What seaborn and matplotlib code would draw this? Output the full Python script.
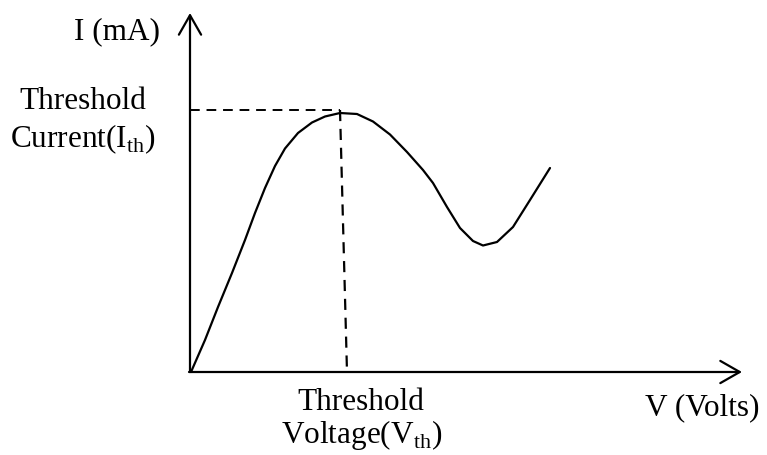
import numpy as np
import pandas as pd
import matplotlib
matplotlib.use("Agg")
import matplotlib.pyplot as plt
import seaborn as sns

# Courbe I(V) (unites arbitraires)
volts = [0.02, 0.30, 0.56, 0.84, 1.10, 1.30, 1.50, 1.70, 1.90, 2.16, 2.44, 2.70, 3.00,
         3.34, 3.66, 4.00, 4.34, 4.66, 4.86, 5.14, 5.40, 5.66, 5.86, 6.14, 6.46, 6.80, 7.20]
current = [0.00, 0.64, 1.30, 1.98, 2.64, 3.18, 3.68, 4.12, 4.47, 4.78, 4.99, 5.11, 5.18,
           5.16, 5.01, 4.75, 4.40, 4.04, 3.78, 3.30, 2.88, 2.62, 2.53, 2.60, 2.90, 3.44, 4.08]

v_th = 3.0
i_th = 5.24
v_max = 11.04
i_max = 7.18

sns.set_style("white")
plt.rcParams['font.family'] = ['Liberation Serif', 'DejaVu Serif']
plt.rcParams['mathtext.fontset'] = 'custom'
plt.rcParams['mathtext.rm'] = 'Liberation Serif'
plt.rcParams['text.color'] = 'black'

fig = plt.figure(figsize=(7.67, 4.55), dpi=100)
ax = fig.add_axes([0, 0, 1, 1])
ax.set_xlim(-3.8, 11.54)
ax.set_ylim(-1.66, 7.44)
ax.axis('off')

df = pd.DataFrame({'V': volts, 'I': current})
sns.lineplot(data=df, x='V', y='I', color='black', linewidth=1.6, ax=ax,
             solid_joinstyle='round')

# lignes de seuil
ax.plot([0, v_th], [i_th, i_th], color='black', lw=1.4, ls=(0, (5, 3.5)))
ax.plot([v_th, v_th + 0.14], [i_th, 0], color='black', lw=1.6, ls=(0, (5, 3.5)))

# axes avec fleches
arrow = dict(arrowstyle='->,head_length=0.7,head_width=0.4', color='black', lw=1.6,
             mutation_scale=20, shrinkA=0, shrinkB=0)
ax.annotate('', xy=(0, i_max), xytext=(0, 0), arrowprops=arrow)
ax.annotate('', xy=(v_max, 0), xytext=(-0.02, 0), arrowprops=arrow)

fs = 22.5
ax.text(-0.6, 6.66, 'I (mA)', fontsize=fs, ha='right', va='baseline')
ax.text(-2.14, 5.26, 'Threshold', fontsize=fs, ha='center', va='baseline')
ax.text(-2.14, 4.50, r'Current(I$_{\mathrm{th}}$)', fontsize=fs, ha='center', va='baseline')
ax.text(3.42, -0.76, 'Threshold', fontsize=fs, ha='center', va='baseline')
ax.text(3.44, -1.42, r'Voltage(V$_{\mathrm{th}}$)', fontsize=fs, ha='center', va='baseline')
ax.text(9.1, -0.86, 'V (Volts)', fontsize=fs, ha='left', va='baseline')

fig.savefig('out.png', dpi=100)
